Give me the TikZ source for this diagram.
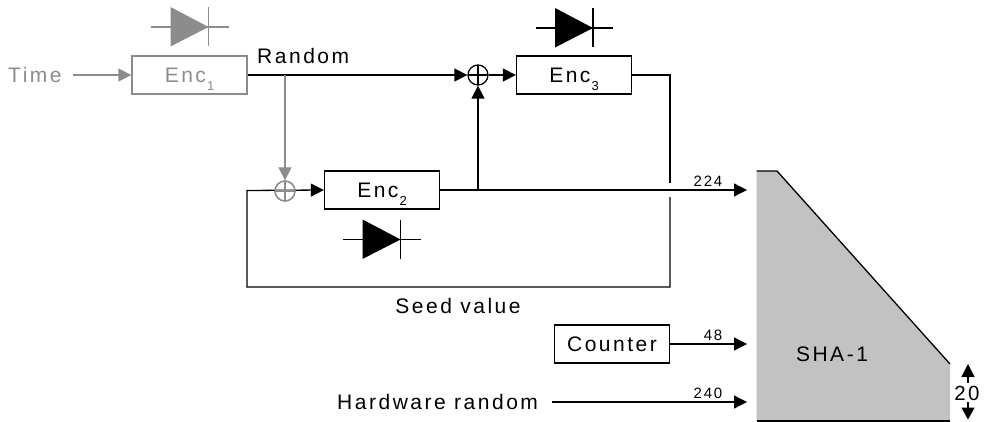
\documentclass[tikz,border=0pt]{standalone}
\usepackage{fontspec}
\setmainfont[LetterSpace=12]{Liberation Sans}
\usetikzlibrary{arrows.meta}
\definecolor{fade}{HTML}{8C8C8C}
\definecolor{shafill}{HTML}{C2C2C2}
\tikzset{
  x=1pt,y=-1pt,
  wire/.style={line width=1.3pt,draw=black},
  fwire/.style={line width=1.3pt,draw=fade},
  arr/.style={-{Triangle[length=13pt,width=13pt]}},
  encbox/.style={draw=black,line width=1.3pt,minimum width=115pt,minimum height=38pt,inner sep=0pt,font=\fontsize{21}{24}\selectfont,text=black},
  fbox/.style={encbox,draw=fade,text=fade},
  xorn/.style={circle,draw=black,line width=1.3pt,minimum size=20pt,inner sep=0pt,path picture={\draw[line width=1.2pt,draw=black] (path picture bounding box.north)--(path picture bounding box.south) (path picture bounding box.west)--(path picture bounding box.east);}},
  fxorn/.style={xorn,draw=fade,path picture={\draw[line width=1.2pt,draw=fade] (path picture bounding box.north)--(path picture bounding box.south) (path picture bounding box.west)--(path picture bounding box.east);}},
  lab/.style={inner sep=0pt,font=\fontsize{21}{24}\selectfont},
  num/.style={inner sep=0pt,font=\fontsize{15}{17}\selectfont},
}
\newcommand{\enclabel}[1]{\raisebox{0pt}[15pt][0pt]{Enc\kern1pt\raisebox{-8pt}[0pt][0pt]{\fontsize{13}{14}\selectfont #1}}}
\newcommand{\diode}[3]{%
  \fill[#3] (#1-19,#2-20)--(#1-19,#2+19.5)--(#1+19,#2)--cycle;
  \draw[#3,line width=1.2pt] (#1-38.5,#2)--(#1+39,#2) (#1+19,#2-20)--(#1+19,#2+19.5);}
\begin{document}
\begin{tikzpicture}
\useasboundingbox (0,0) rectangle (987,422);
% SHA block
\fill[shafill] (756.5,171)--(777,171)--(950,364)--(950,421)--(756.5,421)--cycle;
\draw[line width=1.3pt] (756.5,171)--(777,171)--(950,364);
\draw[line width=1.3pt] (756.5,421)--(950,421);
\node[lab] (sha) at (832,354) {SHA-1};
\coordinate (inA) at (747,190);
\coordinate (inB) at (747,344);
\coordinate (inC) at (747,402);
% boxes
\node[fbox] (enc1) at (189.5,75) {\enclabel{1}};
\node[encbox] (enc3) at (574,75) {\enclabel{3}};
\node[encbox] (enc2) at (382,190) {\enclabel{2}};
\node[encbox] (counter) at (612,344) {Counter};
\node[xorn] (xa) at (478,75) {};
\node[fxorn] (xb) at (285,191) {};
% diodes
\diode{189.5}{27}{fade}
\diode{574}{28}{black}
\diode{381.5}{239.5}{black}
% labels
\node[lab,text=fade,anchor=west] (time) at (8,75) {Time};
\node[lab,anchor=west] (random) at (257,56) {Random};
\node[lab] (seed) at (458,306) {Seed value};
\node[lab,anchor=west] (hw) at (337,402) {Hardware random};
\node[num] (n224) at (708,181) {224};
\node[num] (n48) at (713,335) {48};
\node[num] (n240) at (708,393) {240};
% connectors
\coordinate (timeend) at (73,75);
\draw[fwire,arr,-{Triangle[length=13pt,width=13pt,fade]}] (timeend)--(enc1.west);
\coordinate (tap) at (285,75);
\draw[wire,arr] (enc1.east)--(xa.west);
\draw[fwire,-{Triangle[length=13pt,width=13pt]}] (tap)--(xb.north);
\draw[wire,arr] (xa.east)--(enc3.west);
\coordinate (up) at (478,190);
\draw[wire,arr] (enc2.east)--(inA);
\draw[wire,arr] (up)--(xa.south);
\coordinate (c1) at (670,75);
\coordinate (g1) at (670,183);
\coordinate (g2) at (670,197);
\coordinate (c2) at (670,287);
\coordinate (c3) at (247,287);
\coordinate (c4) at (247,190.5);
\draw[wire] (enc3.east)--(c1)--(g1);
\draw[wire,arr] (g2)--(c2)--(c3)--(c4)--(enc2.west);
\node[fxorn,fill=none] at (285,191) {};
\draw[wire,arr] (counter.east)--(inB);
\coordinate (hwstart) at (552,402);
\draw[wire,arr] (hwstart)--(inC);
% output width mark
\node[inner sep=0pt,font=\fontsize{20.5}{22}\selectfont] (twenty) at (967,393) {20};
\coordinate (o1) at (968,364);
\coordinate (o2) at (968,419.5);
\draw[line width=1.3pt,{Triangle[length=13pt,width=13pt]}-] (o1)--(968,383);
\draw[line width=1.3pt,-{Triangle[length=12pt,width=13pt]}] (968,402)--(o2);
\end{tikzpicture}
\end{document}
